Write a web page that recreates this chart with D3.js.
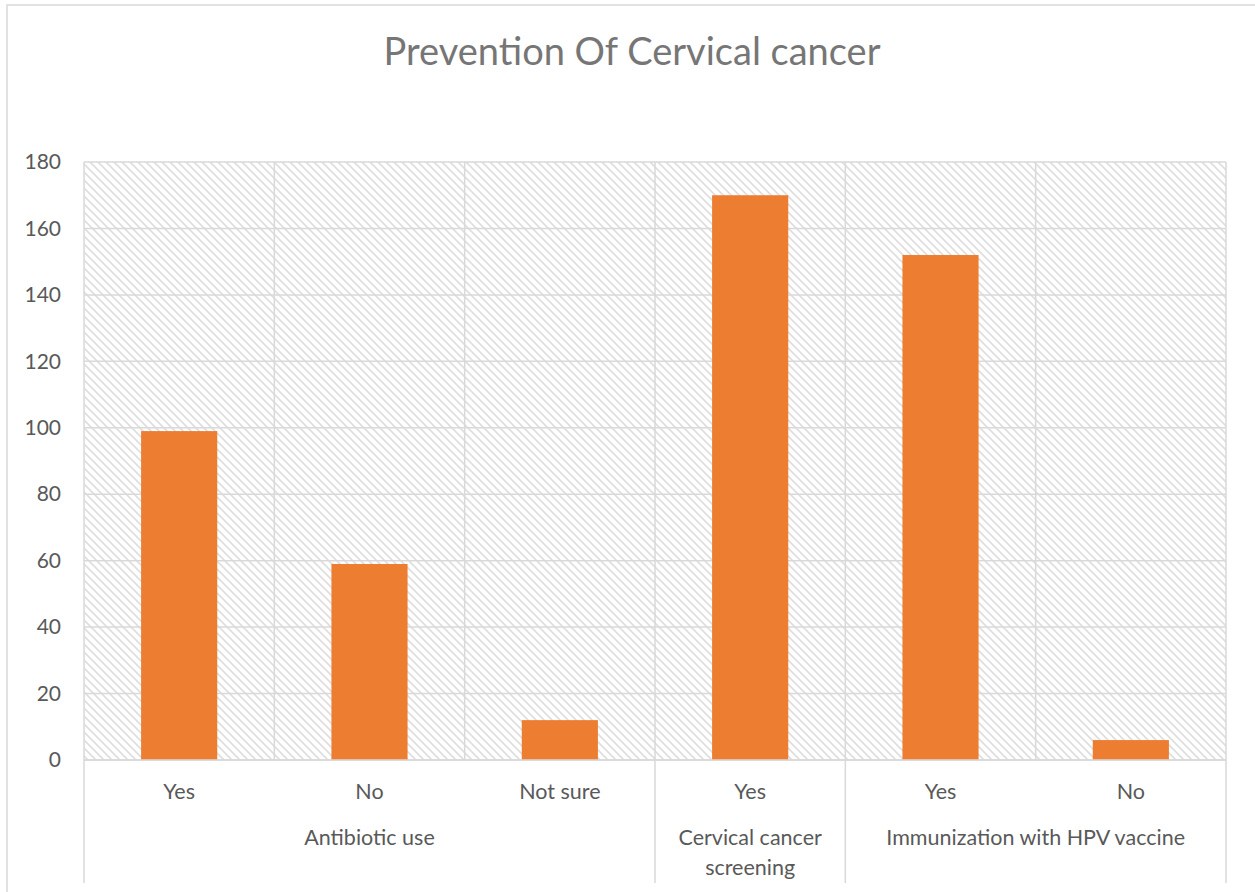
<!DOCTYPE html>
<html>
<head>
<meta charset="utf-8">
<script src="https://cdn.jsdelivr.net/npm/d3@7"></script>
<style>
html,body{margin:0;padding:0;background:#fff;}
svg{display:block;font-family:"Lato","Open Sans",sans-serif;}
</style>
</head>
<body>
<svg id="chart" width="1255" height="892"></svg>
<script>
const title = "Prevention Of Cervical cancer";
const groups = ["Antibiotic use", "Cervical cancer screening", "Immunization with HPV vaccine"];
const groupLines = [["Antibiotic use"], ["Cervical cancer", "screening"], ["Immunization with HPV vaccine"]];
const subLabels = ["Yes", "No", "Not sure", "Yes", "Yes", "No"];
const subGroup = [0, 0, 0, 1, 2, 2];
const values = [99, 59, 12, 170, 152, 6];
const yTicks = [0, 20, 40, 60, 80, 100, 120, 140, 160, 180];

const svg = d3.select("#chart");
const W = 1255, H = 892;
const m = {left: 84, right: 1226, top: 162, bottom: 760};
const FONT = "Lato, 'Open Sans', sans-serif";

// outer chart border (clipped on right/bottom)
svg.append("path")
  .attr("d", `M7,${H+2}V5H${W+2}`)
  .attr("fill", "none").attr("stroke", "#d9d9d9").attr("stroke-width", 1.5);

// hatch pattern
const defs = svg.append("defs");
const pat = defs.append("pattern").attr("id", "hatch")
  .attr("patternUnits", "userSpaceOnUse").attr("width", 8).attr("height", 8);
pat.append("rect").attr("width", 8).attr("height", 8).attr("fill", "#ffffff");
pat.append("path").attr("d", "M-2,-2L10,10M-2,6L2,10M6,-2L10,2")
  .attr("stroke", "#dedede").attr("stroke-width", 1.6);

const idx = d3.range(values.length);
const x = d3.scaleBand().domain(idx).range([m.left, m.right]).paddingInner(0.6).paddingOuter(0.3);
const y = d3.scaleLinear().domain([0, 180]).range([m.bottom, m.top]);

// plot area background
svg.append("rect").attr("x", m.left).attr("y", m.top)
  .attr("width", m.right - m.left).attr("height", m.bottom - m.top)
  .attr("fill", "url(#hatch)");

const step = x.step();
const edge = i => m.left + i * step;

// horizontal gridlines
svg.append("g").selectAll("line").data(yTicks).join("line")
  .attr("x1", m.left).attr("x2", m.right)
  .attr("y1", d => y(d)).attr("y2", d => y(d))
  .attr("stroke", "#d9d9d9").attr("stroke-width", 1.5);

// vertical gridlines at category boundaries
svg.append("g").selectAll("line").data(d3.range(values.length + 1)).join("line")
  .attr("x1", d => edge(d)).attr("x2", d => edge(d))
  .attr("y1", m.top).attr("y2", m.bottom)
  .attr("stroke", "#d9d9d9").attr("stroke-width", 1.5);

// bars
svg.append("g").selectAll("rect").data(idx).join("rect")
  .attr("x", i => x(i)).attr("width", x.bandwidth())
  .attr("y", i => y(values[i])).attr("height", i => y(0) - y(values[i]))
  .attr("fill", "#ed7d31");

// y axis labels
const yAxis = d3.axisLeft(y).tickValues(yTicks).tickSize(0).tickPadding(23);
const ya = svg.append("g").attr("transform", `translate(${m.left},0)`).call(yAxis);
ya.select(".domain").remove();
ya.selectAll("text").attr("fill", "#595959").attr("font-size", 21).attr("font-family", FONT);

// x axis: sub labels
const xa = d3.axisBottom(x).tickFormat(i => subLabels[i]).tickSize(0).tickPadding(0);
const xg = svg.append("g").attr("transform", `translate(0,${m.bottom})`).call(xa);
xg.select(".domain").remove();
xg.selectAll("text").attr("dy", null).attr("y", 39).attr("fill", "#595959")
  .attr("font-size", 21.5).attr("font-family", FONT);

// group boundaries
const groupStarts = [];
const groupEnds = [];
groups.forEach((g, gi) => {
  const members = idx.filter(i => subGroup[i] === gi);
  groupStarts.push(d3.min(members));
  groupEnds.push(d3.max(members) + 1);
});
const seps = Array.from(new Set(groupStarts.concat(groupEnds))).sort((a, b) => a - b);
svg.append("g").selectAll("line").data(seps).join("line")
  .attr("x1", d => edge(d)).attr("x2", d => edge(d))
  .attr("y1", m.bottom).attr("y2", 883)
  .attr("stroke", "#d9d9d9").attr("stroke-width", 1.5);

// axis baseline
svg.append("line").attr("x1", m.left).attr("x2", m.right)
  .attr("y1", m.bottom).attr("y2", m.bottom)
  .attr("stroke", "#d9d9d9").attr("stroke-width", 1.5);

// group labels
groups.forEach((g, gi) => {
  const cx = (edge(groupStarts[gi]) + edge(groupEnds[gi])) / 2;
  const t = svg.append("text").attr("x", cx).attr("y", 845)
    .attr("text-anchor", "middle").attr("fill", "#595959").attr("font-size", 21.5)
    .attr("font-family", FONT);
  groupLines[gi].forEach((ln, li) => {
    t.append("tspan").attr("x", cx).attr("dy", li === 0 ? 0 : 30).text(ln);
  });
});

// title
svg.append("text").attr("x", 632).attr("y", 65).attr("text-anchor", "middle")
  .attr("fill", "#767676").attr("font-size", 38).attr("font-family", FONT).text(title);
</script>
</body>
</html>
